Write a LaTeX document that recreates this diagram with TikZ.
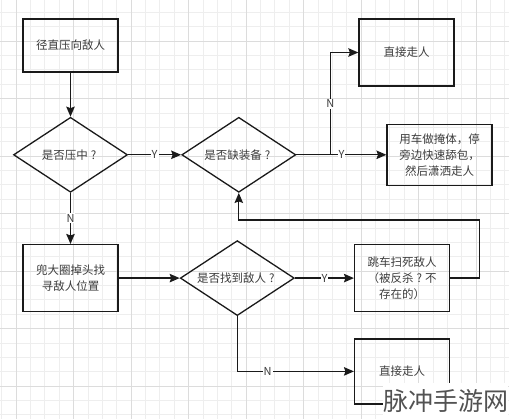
\documentclass[tikz,border=0pt]{standalone}
\usepackage{fontspec}
\setmainfont{Noto Sans CJK SC}
\usetikzlibrary{shapes.geometric, arrows.meta, positioning, calc}
\definecolor{linecolor}{RGB}{26, 26, 26}
\definecolor{textcolor}{RGB}{60, 60, 60}
\definecolor{minorcolor}{RGB}{238, 238, 238}
\definecolor{majorcolor}{RGB}{220, 220, 220}
\newcommand{\qmark}{\makebox[1em]{?}}
\tikzset{
    % Base styles
    basenode/.style={
        draw=linecolor, line width=1.3pt, align=center, text=textcolor,
        font=\fontsize{11.5}{16}\selectfont, inner sep=2pt
    },
    % Specific node types
    stepbox/.style={basenode, rectangle, minimum width=95pt, minimum height=67pt},
    decision/.style={
        basenode, diamond, aspect=1.5, inner sep=0pt,
        minimum width=114pt, minimum height=75pt
    },
    % Arrows
    myarrow/.style={-{Stealth[length=10pt, width=8.5pt, inset=1.5pt]}, line width=1.3pt, linecolor},
    % Labels
    edgelabel/.style={fill=white, text=textcolor, font=\fontsize{11}{12}\selectfont, inner sep=1pt},
    % Grid
    minorgrid/.style={draw=minorcolor, line width=0.6pt},
    majorgrid/.style={draw=majorcolor, line width=0.6pt},
}

\begin{document}
\begin{tikzpicture}[x=1pt, y=-1pt]

\useasboundingbox (0,0) rectangle (509,419);
\clip (0,0) rectangle (509,419);

% ===== Background grid =====
\foreach \i in {-1,...,35} \draw[minorgrid] ({16+14.375*\i},0) -- ++(0,419);
\foreach \j in {-3,...,27} \draw[minorgrid] (0,{41+14.375*\j}) -- ++(509,0);
\foreach \i in {0,...,8} \draw[majorgrid] ({16+57.5*\i},0) -- ++(0,419);
\foreach \j in {-1,...,7} \draw[majorgrid] (0,{41+57.5*\j}) -- ++(509,0);

% ===== Upper branch =====
\node (start) [stepbox, minimum height=53pt] at (70.5,45.5) {径直压向敌人};
\node (hit) [decision, below=44pt of start] {是否压中\qmark};
\node (gear) [decision, right=53pt of hit] {是否缺装备\qmark};
\node (cover) [stepbox, right=90pt of gear, minimum width=105pt, minimum height=61pt] {
    用车做掩体，停\\旁边快速舔包，\\然后潇洒走人
};
\node (leave1) [stepbox] at (406.5,52.5) {直接走人};

\draw[myarrow] (start) -- (hit);
\draw[myarrow] (hit) -- node[edgelabel] {Y} (gear);
\draw[myarrow] (gear) -- node[edgelabel] {Y} (cover);
\coordinate (split) at ($(gear.east)+(34,0)$);
\draw[myarrow] (split) -- node[edgelabel] {N} (split |- leave1) -- (leave1);

% ===== Lower branch =====
\node (search) [stepbox, below=51pt of hit] {兜大圈掉头找\\寻敌人位置};
\node (found) [decision, right=61pt of search] {是否找到敌人\qmark};
\node (jump) [stepbox, right=59pt of found] {
    跳车扫死敌人\\（被反杀\qmark 不\\存在的）
};
\node (leave2) [stepbox, below=26pt of jump, minimum height=65pt] {直接走人};

\draw[myarrow] (hit) -- node[edgelabel] {N} (search);
\draw[myarrow] (search) -- (found);
\draw[myarrow] (found) -- node[edgelabel] {Y} (jump);
\draw[myarrow] (found) |- node[edgelabel, pos=0.63] {N} (leave2);

% loop back to the gear check
\draw[myarrow] (jump.east) -- ++(29,0) |- ([yshift=-27pt]gear.south) -- (gear.south);

% ===== Watermark =====
\node (mark) [fill=white, inner sep=0pt, anchor=south west, minimum height=36pt,
      text=black!68, font=\fontsize{25}{25}\selectfont] at (383,419) {脉冲手游网};

\end{tikzpicture}
\end{document}
